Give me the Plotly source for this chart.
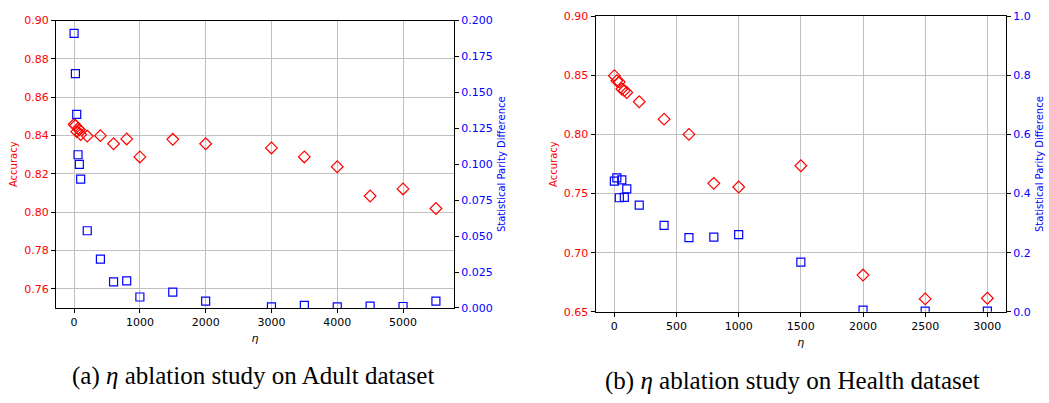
import plotly.graph_objects as go

# ---- data: Adult dataset ----
adult_eta = [0, 20, 40, 60, 80, 100, 200, 400, 600, 800, 1000, 1500, 2000,
             3000, 3500, 4000, 4500, 5000, 5500]
adult_acc = [0.8458, 0.8452, 0.8420, 0.8437, 0.8430, 0.8405, 0.8397, 0.8399,
             0.8357, 0.8382, 0.8288, 0.8380, 0.8357, 0.8335, 0.8288, 0.8237,
             0.8084, 0.8121, 0.8019]
adult_spd = [0.191, 0.163, 0.1347, 0.1066, 0.0999, 0.0896, 0.0537, 0.0339,
             0.0182, 0.0189, 0.0076, 0.0110, 0.0047, 0.0007, 0.0018, 0.0007,
             0.0013, 0.0010, 0.0047]

# ---- data: Health dataset ----
health_eta = [0, 20, 40, 60, 80, 100, 200, 400, 600, 800, 1000, 1500, 2000,
              2500, 3000]
health_acc = [0.8498, 0.8455, 0.8445, 0.8385, 0.8372, 0.8356, 0.8277, 0.8130,
              0.8001, 0.7587, 0.7556, 0.7736, 0.6811, 0.6609, 0.6615]
health_spd = [0.442, 0.453, 0.386, 0.4465, 0.3875, 0.416, 0.361, 0.2925,
              0.251, 0.253, 0.261, 0.168, 0.0055, 0.002, 0.002]

captions = ["(a) <i>η</i> ablation study on Adult dataset",
            "(b) <i>η</i> ablation study on Health dataset"]

RED = "#ff0000"
BLUE = "#0000ff"
FONT = "DejaVu Sans"
W, H = 1049, 403

fig = go.Figure()

fig.add_trace(go.Scatter(x=adult_eta, y=adult_acc, mode="markers", xaxis="x", yaxis="y",
                         marker=dict(symbol="diamond-open", size=9, color=RED, line=dict(width=1.2)),
                         showlegend=False))
fig.add_trace(go.Scatter(x=adult_eta, y=adult_spd, mode="markers", xaxis="x", yaxis="y2",
                         marker=dict(symbol="square-open", size=8, color=BLUE, line=dict(width=1.2)),
                         showlegend=False))
fig.add_trace(go.Scatter(x=health_eta, y=health_acc, mode="markers", xaxis="x2", yaxis="y3",
                         marker=dict(symbol="diamond-open", size=9, color=RED, line=dict(width=1.2)),
                         showlegend=False))
fig.add_trace(go.Scatter(x=health_eta, y=health_spd, mode="markers", xaxis="x2", yaxis="y4",
                         marker=dict(symbol="square-open", size=8, color=BLUE, line=dict(width=1.2)),
                         showlegend=False))

def px_x(p):
    return p / W

def px_y(p):
    return 1 - p / H

axis_common = dict(showline=True, linecolor="black", linewidth=1.3, ticks="outside",
                   ticklen=4, tickcolor="black", zeroline=False)

xt = dict(**axis_common, mirror=True, showgrid=True, gridcolor="#c0c0c0", gridwidth=1,
          tickfont=dict(family=FONT, size=11, color="black"))

fig.update_layout(
    width=W, height=H,
    margin=dict(l=0, r=0, t=0, b=0),
    paper_bgcolor="white", plot_bgcolor="white",
    font=dict(family=FONT),
    xaxis=dict(**xt, domain=[px_x(56), px_x(454)], range=[-275, 5775],
               tickvals=[0, 1000, 2000, 3000, 4000, 5000], anchor="y",
               title=dict(text="<i>η</i>", font=dict(size=11, color="black"), standoff=6)),
    yaxis=dict(**axis_common, domain=[px_y(312), px_y(15)], range=[0.75, 0.90],
               tickvals=[0.76, 0.78, 0.80, 0.82, 0.84, 0.86, 0.88, 0.90], tickformat=".2f",
               showgrid=True, gridcolor="#c0c0c0", gridwidth=1, anchor="x",
               tickfont=dict(family=FONT, size=11, color=RED),
               title=dict(text="Accuracy", font=dict(size=10, color=RED), standoff=4)),
    yaxis2=dict(**axis_common, overlaying="y", side="right", anchor="x",
                range=[0, 0.2], tickvals=[0, 0.025, 0.05, 0.075, 0.1, 0.125, 0.15, 0.175, 0.2],
                tickformat=".3f", showgrid=False,
                tickfont=dict(family=FONT, size=11, color=BLUE),
                title=dict(text="Statistical Parity Difference", font=dict(size=10, color=BLUE), standoff=6)),
    xaxis2=dict(**xt, domain=[px_x(595.7), px_x(1006)], range=[-150, 3150],
                tickvals=[0, 500, 1000, 1500, 2000, 2500, 3000], anchor="y3",
                title=dict(text="<i>η</i>", font=dict(size=11, color="black"), standoff=6)),
    yaxis3=dict(**axis_common, domain=[px_y(316), px_y(10.7)], range=[0.65, 0.90],
                tickvals=[0.65, 0.70, 0.75, 0.80, 0.85, 0.90], tickformat=".2f",
                showgrid=True, gridcolor="#c0c0c0", gridwidth=1, anchor="x2",
                tickfont=dict(family=FONT, size=11, color=RED),
                title=dict(text="Accuracy", font=dict(size=10, color=RED), standoff=4)),
    yaxis4=dict(**axis_common, overlaying="y3", side="right", anchor="x2",
                range=[0, 1.0], tickvals=[0, 0.2, 0.4, 0.6, 0.8, 1.0],
                tickformat=".1f", showgrid=False,
                tickfont=dict(family=FONT, size=11, color=BLUE),
                title=dict(text="Statistical Parity Difference", font=dict(size=10, color=BLUE), standoff=6)),
)

fig.add_annotation(text=captions[0], xref="paper", yref="paper", x=px_x(253), y=px_y(382),
                   xanchor="center", yanchor="middle", showarrow=False,
                   font=dict(family="Liberation Serif", size=25, color="black"))
fig.add_annotation(text=captions[1], xref="paper", yref="paper", x=px_x(792), y=px_y(387),
                   xanchor="center", yanchor="middle", showarrow=False,
                   font=dict(family="Liberation Serif", size=25, color="black"))

fig.write_html("out.html")
